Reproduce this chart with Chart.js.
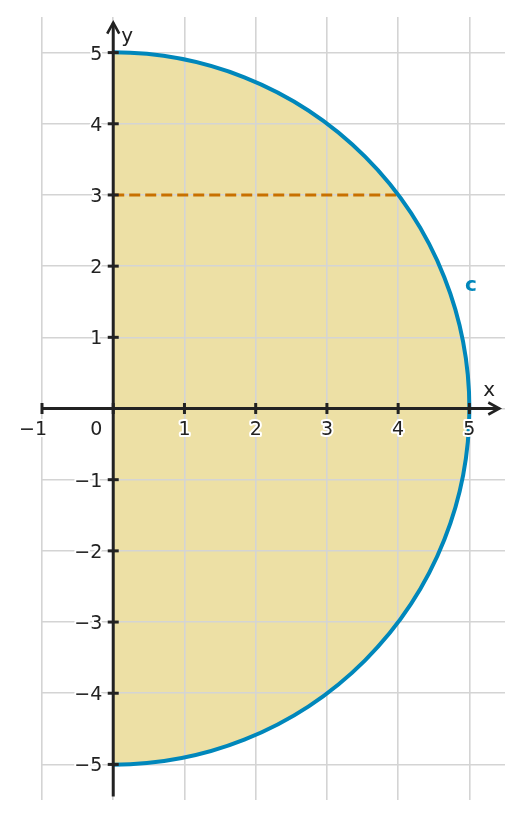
<!DOCTYPE html>
<html>
<head>
<meta charset="utf-8">
<script src="https://cdn.jsdelivr.net/npm/chart.js@4/dist/chart.umd.min.js"></script>
<style>
html,body{margin:0;padding:0;background:#fff;}
#wrap{width:522px;height:819px;}
</style>
</head>
<body>
<div id="wrap"><canvas id="c" width="522" height="819"></canvas></div>
<script>
// ---- data ----
const xTickValues = [-1, 0, 1, 2, 3, 4, 5];
const yTickValues = [-5, -4, -3, -2, -1, 0, 1, 2, 3, 4, 5];
const xTickLabels = ['\u22121', '0', '1', '2', '3', '4', '5'];
const yTickLabels = ['\u22125', '\u22124', '\u22123', '\u22122', '\u22121', '', '1', '2', '3', '4', '5'];
const circleCenter = [0, 0];
const circleRadius = [5];
const chordX = [0, 4];
const chordY = [3, 3];
const curveLabel = ['c'];
const curveLabelPos = [5.05, 1.65];

const FONT = '"DejaVu Sans", sans-serif';
const AXIS = '#222222';

const shapePlugin = {
  id: 'shape',
  beforeDraw(chart) {
    const ctx = chart.ctx;
    const xs = chart.scales.x, ys = chart.scales.y;
    ctx.save();
    ctx.fillStyle = '#ffffff';
    ctx.fillRect(0, 0, chart.width, chart.height);
    const cx = xs.getPixelForValue(circleCenter[0]);
    const cy = ys.getPixelForValue(circleCenter[1]);
    const r = xs.getPixelForValue(circleCenter[0] + circleRadius[0]) - cx;
    ctx.beginPath();
    ctx.moveTo(cx, cy - r);
    ctx.arc(cx, cy, r, -Math.PI / 2, Math.PI / 2, false);
    ctx.closePath();
    ctx.fillStyle = '#ede0a5';
    ctx.fill();
    ctx.restore();
  },
  afterDatasetsDraw(chart) {
    const ctx = chart.ctx;
    const xs = chart.scales.x, ys = chart.scales.y;
    const cx = xs.getPixelForValue(circleCenter[0]);
    const cy = ys.getPixelForValue(circleCenter[1]);
    const r = xs.getPixelForValue(circleCenter[0] + circleRadius[0]) - cx;
    ctx.save();
    ctx.beginPath();
    ctx.arc(cx, cy, r, -Math.PI / 2, Math.PI / 2, false);
    ctx.strokeStyle = '#0087bb';
    ctx.lineWidth = 4;
    ctx.stroke();
    ctx.restore();
  },
  afterDraw(chart) {
    const ctx = chart.ctx;
    const xs = chart.scales.x, ys = chart.scales.y;
    const x0 = xs.getPixelForValue(0), y0 = ys.getPixelForValue(0);
    ctx.save();
    ctx.strokeStyle = AXIS;
    ctx.fillStyle = AXIS;
    ctx.lineWidth = 3;
    ctx.lineCap = 'butt';
    // x axis
    const xa = xs.getPixelForValue(-1), xb = xs.getPixelForValue(5.42);
    ctx.beginPath(); ctx.moveTo(xa, y0); ctx.lineTo(xb, y0); ctx.stroke();
    // y axis
    const ya = ys.getPixelForValue(-5.45), yb = ys.getPixelForValue(5.42);
    ctx.beginPath(); ctx.moveTo(x0, ya); ctx.lineTo(x0, yb); ctx.stroke();
    // arrows
    ctx.lineWidth = 2.6;
    ctx.lineJoin = 'miter';
    ctx.beginPath();
    ctx.moveTo(xb - 11, y0 - 6); ctx.lineTo(xb, y0); ctx.lineTo(xb - 11, y0 + 6);
    ctx.stroke();
    ctx.beginPath();
    ctx.moveTo(x0 - 6, yb + 11); ctx.lineTo(x0, yb); ctx.lineTo(x0 + 6, yb + 11);
    ctx.stroke();
    // ticks
    ctx.lineWidth = 3;
    xTickValues.forEach(v => {
      const px = xs.getPixelForValue(v);
      ctx.beginPath(); ctx.moveTo(px, y0 - 5.5); ctx.lineTo(px, y0 + 5.5); ctx.stroke();
    });
    yTickValues.forEach(v => {
      const py = ys.getPixelForValue(v);
      ctx.beginPath(); ctx.moveTo(x0 - 5.5, py); ctx.lineTo(x0 + 5.5, py); ctx.stroke();
    });
    // labels with white halo
    ctx.font = '19px ' + FONT;
    ctx.lineJoin = 'round';
    const halo = (txt, x, y) => {
      ctx.strokeStyle = '#ffffff';
      ctx.lineWidth = 4;
      ctx.strokeText(txt, x, y);
      ctx.fillStyle = AXIS;
      ctx.fillText(txt, x, y);
    };
    ctx.textAlign = 'center';
    ctx.textBaseline = 'alphabetic';
    xTickValues.forEach((v, i) => {
      let px = xs.getPixelForValue(v);
      if (v < 0) px -= 9;
      if (v === 0) px -= 17;
      halo(xTickLabels[i], px, y0 + 26);
    });
    ctx.textAlign = 'right';
    yTickValues.forEach((v, i) => {
      if (!yTickLabels[i]) return;
      const py = ys.getPixelForValue(v);
      halo(yTickLabels[i], x0 - 11, py + 7);
    });
    // axis names
    ctx.textAlign = 'left';
    ctx.fillStyle = AXIS;
    ctx.font = '20px ' + FONT;
    ctx.fillText('x', xb - 16, y0 - 13);
    ctx.fillText('y', x0 + 8, yb + 19);
    // curve label
    ctx.font = 'bold 20px ' + FONT;
    ctx.fillStyle = '#0087bb';
    ctx.fillText(curveLabel[0], xs.getPixelForValue(curveLabelPos[0]) - 8, ys.getPixelForValue(curveLabelPos[1]) + 0);
    ctx.restore();
  }
};

const intTicks = (vals) => (scale) => { scale.ticks = vals.map(v => ({ value: v })); };

new Chart(document.getElementById('c'), {
  type: 'scatter',
  data: {
    datasets: [{
      data: chordX.map((x, i) => ({ x: x, y: chordY[i] })),
      showLine: true,
      borderColor: '#c87000',
      borderWidth: 3,
      borderDash: [11, 5],
      pointRadius: 0,
      fill: false
    }]
  },
  options: {
    responsive: false,
    animation: false,
    devicePixelRatio: 1,
    layout: { padding: { left: 42, right: 17, top: 17, bottom: 19 } },
    plugins: { legend: { display: false }, tooltip: { enabled: false } },
    scales: {
      x: {
        type: 'linear', min: -1, max: 5.5,
        afterBuildTicks: intTicks(xTickValues),
        grid: { color: '#d4d4d4', lineWidth: 1.6, drawTicks: false },
        border: { display: false },
        ticks: { display: false }
      },
      y: {
        type: 'linear', min: -5.5, max: 5.5,
        afterBuildTicks: intTicks(yTickValues),
        grid: { color: '#d4d4d4', lineWidth: 1.6, drawTicks: false },
        border: { display: false },
        ticks: { display: false }
      }
    }
  },
  plugins: [shapePlugin]
});
</script>
</body>
</html>
